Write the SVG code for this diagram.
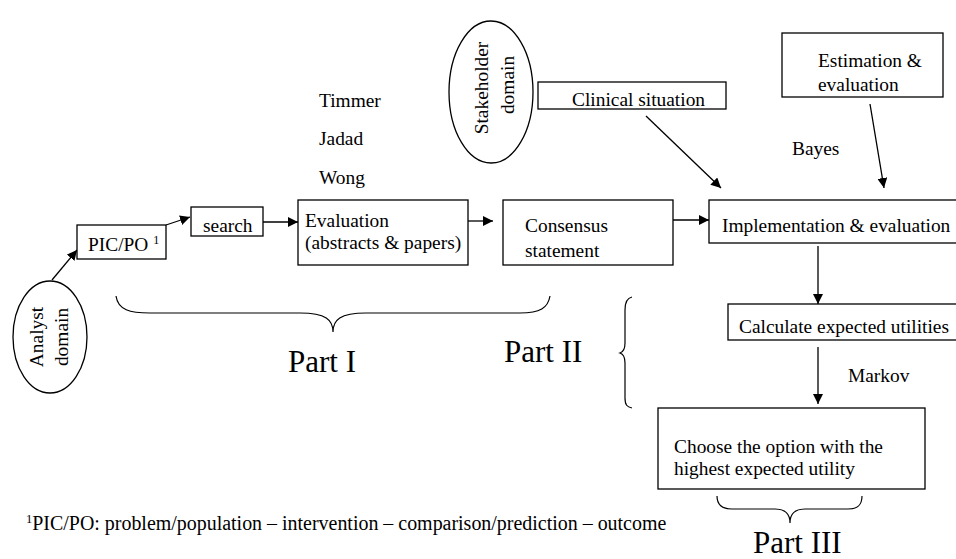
<svg xmlns="http://www.w3.org/2000/svg" width="956" height="559" viewBox="0 0 956 559" font-family="'Liberation Serif', 'Times New Roman', Times, serif">
<defs>
<style>
text{font-family:"Liberation Serif","Times New Roman",Times,serif;fill:#000}
.t{font-size:19.4px}
.big{font-size:31px}
.fn{font-size:19.95px}
.box{fill:#fff;stroke:#000;stroke-width:1.3}
.ln{fill:none;stroke:#000;stroke-width:1.3}
.br{fill:none;stroke:#000;stroke-width:1.2}
</style>
<marker id="ah" viewBox="0 0 10 10" refX="10" refY="5" markerWidth="10" markerHeight="10" markerUnits="userSpaceOnUse" orient="auto">
<path d="M0,0 L10,5 L0,10 z" fill="#000"/>
</marker>
</defs>
<rect width="956" height="559" fill="#fff"/>

<g id="connectors">
<line class="ln" x1="52" y1="280" x2="77" y2="250" marker-end="url(#ah)"/>
<line class="ln" x1="166" y1="225" x2="190" y2="217" marker-end="url(#ah)"/>
<line class="ln" x1="263" y1="222" x2="298" y2="222" marker-end="url(#ah)"/>
<line class="ln" x1="468" y1="221" x2="493" y2="221" marker-end="url(#ah)"/>
<line class="ln" x1="673" y1="220" x2="709" y2="220" marker-end="url(#ah)"/>
<line class="ln" x1="646" y1="116" x2="721" y2="188" marker-end="url(#ah)"/>
<line class="ln" x1="870" y1="104" x2="884" y2="188" marker-end="url(#ah)"/>
<line class="ln" x1="818" y1="246" x2="818" y2="304" marker-end="url(#ah)"/>
<line class="ln" x1="818" y1="347" x2="818" y2="404" marker-end="url(#ah)"/>
</g>

<g id="analyst">
<ellipse class="box" cx="50" cy="337" rx="37" ry="56"/>
<text class="t" transform="translate(43,337) rotate(-90)" text-anchor="middle">Analyst</text>
<text class="t" transform="translate(68,337) rotate(-90)" text-anchor="middle">domain</text>
</g>

<g id="picpo">
<rect class="box" x="77" y="225" width="89" height="34"/>
<text class="t" x="88" y="251">PIC/PO <tspan font-size="12" dy="-7">1</tspan></text>
</g>

<g id="search">
<rect class="box" x="191" y="207" width="72" height="29"/>
<text class="t" x="203" y="232">search</text>
</g>

<g id="methods">
<text class="t" x="319" y="107">Timmer</text>
<text class="t" x="319" y="145">Jadad</text>
<text class="t" x="319" y="184">Wong</text>
</g>

<g id="evaluation">
<rect class="box" x="298" y="200" width="170" height="65"/>
<text class="t" x="305" y="227">Evaluation</text>
<text class="t" x="305" y="249">(abstracts &amp; papers)</text>
</g>

<g id="stakeholder">
<ellipse class="box" cx="491" cy="92" rx="42" ry="71"/>
<text class="t" transform="translate(488,88) rotate(-90)" text-anchor="middle">Stakeholder</text>
<text class="t" transform="translate(514,85) rotate(-90)" text-anchor="middle">domain</text>
</g>

<g id="clinical">
<rect class="box" x="538" y="82" width="188" height="27"/>
<text class="t" x="572" y="106">Clinical situation</text>
</g>

<g id="consensus">
<rect class="box" x="503" y="200" width="170" height="65"/>
<text class="t" x="525" y="232">Consensus</text>
<text class="t" x="525" y="257">statement</text>
</g>

<g id="estimation">
<rect class="box" x="782" y="33" width="161" height="64"/>
<text class="t" x="818" y="67">Estimation &amp;</text>
<text class="t" x="818" y="91">evaluation</text>
</g>

<text class="t" x="792" y="155">Bayes</text>

<g id="implementation">
<rect class="box" x="709" y="200" width="250" height="43"/>
<text class="t" x="722" y="232">Implementation &amp; evaluation</text>
</g>

<g id="calculate">
<rect class="box" x="728" y="304" width="231" height="36"/>
<text class="t" x="739" y="333">Calculate expected utilities</text>
</g>

<text class="t" x="848" y="382">Markov</text>

<g id="choose">
<rect class="box" x="658" y="408" width="267" height="81"/>
<text class="t" x="674" y="453">Choose the option with the</text>
<text class="t" x="674" y="475">highest expected utility</text>
</g>

<g id="braces">
<path class="br" d="M116,296 C118,310 130,313 150,313 L300,313 C326,313 333,320 333,332 C333,320 340,313 366,313 L520,313 C540,313 548,308 550,296"/>
<path class="br" d="M632,297 C627,298 625,302 625,310 L625,343 C625,350 623,352 620,353 C623,354 625,356 625,363 L625,398 C625,405 627,407 632,408"/>
<path class="br" d="M717,496 C717,505 722,509 732,509 L775,509 C786,509 790,514 790,523 C790,514 794,509 805,509 L848,509 C858,509 862,505 862,496"/>
</g>

<text class="big" x="288" y="372">Part I</text>
<text class="big" x="504" y="362">Part II</text>
<text class="big" x="753" y="553">Part III</text>

<text class="fn" x="26" y="530"><tspan font-size="12.5" dy="-7">1</tspan><tspan dy="7">PIC/PO: problem/population – intervention – comparison/prediction – outcome</tspan></text>
</svg>
